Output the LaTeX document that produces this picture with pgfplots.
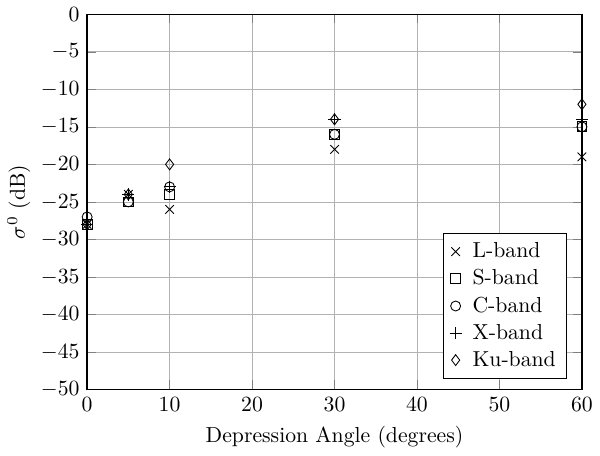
\documentclass[border=0pt]{standalone}
\usepackage{pgfplots}
\pgfplotsset{compat=1.18}
\begin{document}
\begin{tikzpicture}
\begin{axis}[
  scale only axis,
  width=228pt, height=173pt,
  xmin=0, xmax=60, ymin=-50, ymax=0,
  xtick={0,10,...,60}, ytick={-50,-45,...,0},
  grid=major,
  grid style={gray!60, line width=0.3pt},
  axis line style={line width=0.6pt},
  xlabel={Depression Angle (degrees)},
  ylabel={$\sigma^0$ (dB)},
  ylabel style={yshift=-2pt},
  legend pos=south east,
  legend cell align=left,
  legend style={/tikz/every odd column/.append style={column sep=3pt}},
  clip=false,
]
\addplot[only marks, mark=x, mark size=2.8pt, line width=0.4pt] coordinates {(0,-28) (5,-24) (10,-26) (30,-18) (60,-19)};
\addplot[only marks, mark=square, mark size=2.3pt, line width=0.4pt] coordinates {(0,-28) (5,-25) (10,-24) (30,-16) (60,-15)};
\addplot[only marks, mark=o, mark size=2.3pt, line width=0.4pt] coordinates {(0,-27) (5,-25) (10,-23) (30,-16) (60,-15)};
\addplot[only marks, mark=+, mark size=2.8pt, line width=0.4pt] coordinates {(0,-28) (5,-24) (10,-23) (30,-14) (60,-14)};
\addplot[only marks, mark=diamond, mark size=2.5pt, line width=0.4pt] coordinates {(0,-28) (5,-24) (10,-20) (30,-14) (60,-12)};
\legend{L-band, S-band, C-band, X-band, Ku-band}
\end{axis}
\end{tikzpicture}
\end{document}
